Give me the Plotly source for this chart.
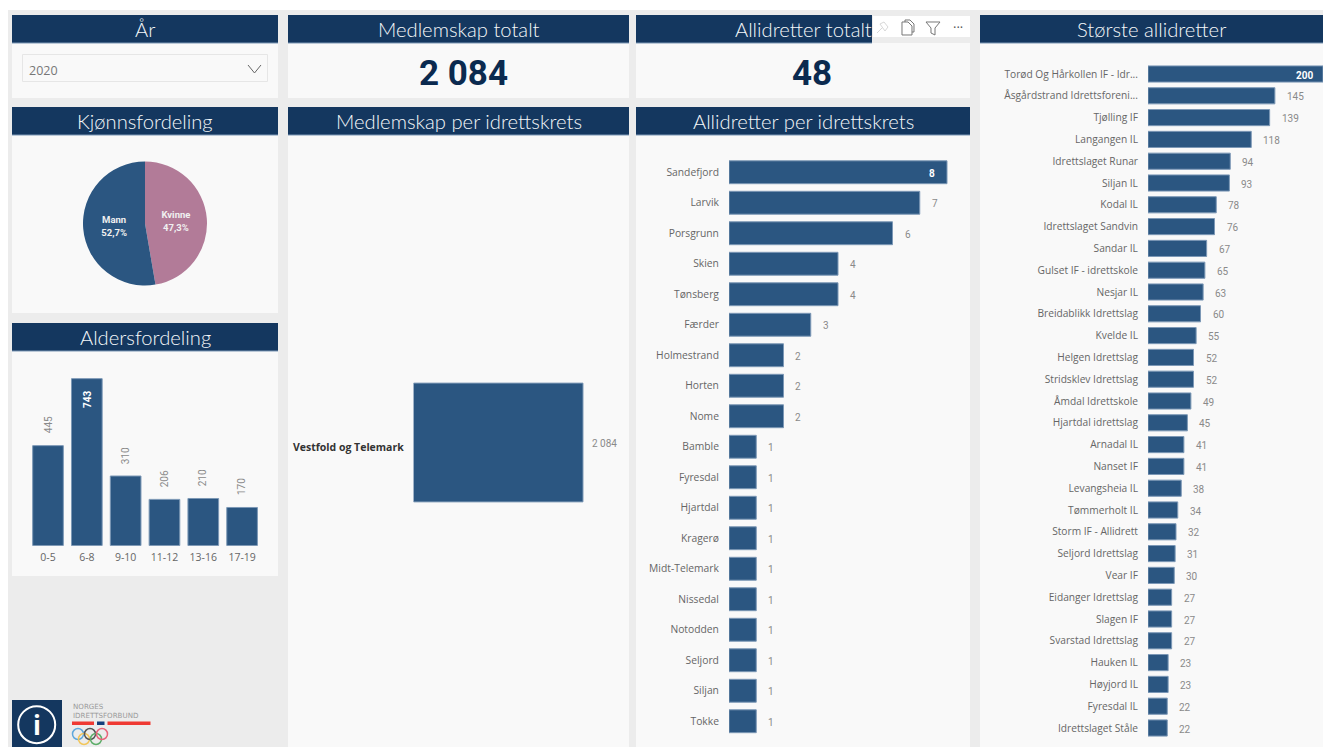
import plotly.graph_objects as go

W, H = 1323, 747
def X(p): return p / W
def Y(p): return 1 - p / H

# ---------- data ----------
years_selected = "2020"
total_members = "2 084"
total_clubs = "48"
gender_labels = ["Kvinne", "Mann"]
gender_values = [47.3, 52.7]
age_labels = ["0-5", "6-8", "9-10", "11-12", "13-16", "17-19"]
age_values = [445, 743, 310, 206, 210, 170]
krets_labels = ["Vestfold og Telemark"]
krets_values = [2084]
krets_display = ["2 084"]
district_labels = ["Sandefjord", "Larvik", "Porsgrunn", "Skien", "Tønsberg", "Færder", "Holmestrand",
                   "Horten", "Nome", "Bamble", "Fyresdal", "Hjartdal", "Kragerø", "Midt-Telemark",
                   "Nissedal", "Notodden", "Seljord", "Siljan", "Tokke"]
district_values = [8, 7, 6, 4, 4, 3, 2, 2, 2, 1, 1, 1, 1, 1, 1, 1, 1, 1, 1]
club_labels = ["Torød Og Hårkollen IF - Idr...", "Åsgårdstrand Idrettsforeni...", "Tjølling IF", "Langangen IL",
               "Idrettslaget Runar", "Siljan IL", "Kodal IL", "Idrettslaget Sandvin", "Sandar IL",
               "Gulset IF - idrettskole", "Nesjar IL", "Breidablikk Idrettslag", "Kvelde IL", "Helgen Idrettslag",
               "Stridsklev Idrettslag", "Åmdal Idrettskole", "Hjartdal idrettslag", "Arnadal IL", "Nanset IF",
               "Levangsheia IL", "Tømmerholt IL", "Storm IF - Allidrett", "Seljord Idrettslag", "Vear IF",
               "Eidanger Idrettslag", "Slagen IF", "Svarstad Idrettslag", "Hauken IL", "Høyjord IL",
               "Fyresdal IL", "Idrettslaget Ståle"]
club_values = [200, 145, 139, 118, 94, 93, 78, 76, 67, 65, 63, 60, 55, 52, 52, 49, 45, 41, 41,
               38, 34, 32, 31, 30, 27, 27, 27, 23, 23, 22, 22]
titles = ["År", "Medlemskap totalt", "Allidretter totalt", "Største allidretter", "Kjønnsfordeling",
          "Medlemskap per idrettskrets", "Allidretter per idrettskrets", "Aldersfordeling"]

# ---------- style ----------
NAVY, BAR, EDGE, PINK = "#14375F", "#2B5681", "#7C98B6", "#B27B98"
PANEL, BG = "#F9F9F9", "#ECECEC"
TITLE_FONT = "Lato"
LABEL_FONT = "Open Sans"
VALUE_FONT = "Liberation Sans Narrow, Roboto"
GREY = "#666666"

shapes, annots = [], []
def rect(x0, y0, x1, y1, fill, line=None, layer="below"):
    shapes.append(dict(type="rect", xref="paper", yref="paper", x0=X(x0), x1=X(x1), y0=Y(y0), y1=Y(y1),
                       fillcolor=fill, line=dict(color=line or fill, width=1 if line else 0), layer=layer))
def text(x, y, s, size, color, family=LABEL_FONT, anchor="center", weight=None):
    f = dict(size=size, color=color, family=family)
    if weight:
        f["weight"] = weight
    annots.append(dict(xref="paper", yref="paper", x=X(x), y=Y(y), text=s, showarrow=False, xanchor=anchor,
                       yanchor="middle", font=f))
def path(d_pts, color, width=1, closed=False):
    d = "M" + " L".join(f"{X(a):.5f},{Y(b):.5f}" for a, b in d_pts) + (" Z" if closed else "")
    shapes.append(dict(type="path", xref="paper", yref="paper", path=d, line=dict(color=color, width=width), layer="above"))
def circle(cx, cy, r, color, width=1.5):
    shapes.append(dict(type="circle", xref="paper", yref="paper", x0=X(cx-r), x1=X(cx+r), y0=Y(cy-r), y1=Y(cy+r),
                       line=dict(color=color, width=width), layer="above"))

rect(8, 10, W, H, BG)
panels = [  # x0, x1, header top, body bottom, title index
    (12, 278, 15, 98, 0), (288, 629, 15, 98, 1), (636, 970, 15, 98, 2), (980, 1323, 15, 747, 3),
    (12, 278, 107, 313, 4), (288, 629, 107, 747, 5), (636, 970, 107, 747, 6), (12, 278, 323, 576, 7)]
for x0, x1, top, bot, t in panels:
    rect(x0, top + 28, x1, bot, PANEL)
    hx1 = 872 if t == 2 else x1
    rect(x0, top, hx1, top + 28, NAVY)
    shapes.append(dict(type="line", xref="paper", yref="paper", x0=X(x0), x1=X(hx1), y0=Y(top+28), y1=Y(top+28),
                       line=dict(color=EDGE, width=1), layer="below"))
    text((x0 + x1) / 2, top + 14, titles[t], 20.2, "#F4F7FA", TITLE_FONT, weight=300)

# slicer
rect(22.5, 54.5, 267.5, 81.5, PANEL, "#E6E6E6")
text(27, 70, years_selected, 12.5, "#777777", anchor="left")
path([(248, 65), (254.5, 73), (261, 65)], "#666666", 1)

# KPI values
text(463.5, 73.5, f"<b>{total_members}</b>", 35, "#0B2A4F", "Roboto")
text(812.5, 73.5, f"<b>{total_clubs}</b>", 35, "#0B2A4F", "Roboto")

# visual header icons
rect(873, 16, 970, 37, "#FFFFFF")
path([(877, 33), (882, 28)], "#D8D8D8"); path([(880, 24), (885, 31), (888, 27), (884, 22)], "#D8D8D8", closed=True)
path([(902, 22), (908, 22), (912, 26), (912, 35), (902, 35)], "#777777", closed=True); path([(905, 22), (905, 20), (910, 20), (914, 24), (914, 32), (912, 32)], "#777777")
path([(926, 22), (940, 22), (935, 28), (935, 35), (931, 33), (931, 28)], "#777777", closed=True)
text(958, 27, "···", 13, "#555555")

# info tile and logo
rect(12, 700, 62, H, NAVY)
circle(36.7, 724.7, 18.5, "#FFFFFF", 2)
text(36.7, 724.7, "<b>i</b>", 26, "#FFFFFF", "Open Sans")
text(71, 706.5, "NORGES", 7.1, "#9A9A9A", "DejaVu Sans", anchor="left")
text(71, 715.5, "IDRETTSFORBUND", 7.1, "#9A9A9A", "DejaVu Sans", anchor="left")
rect(72, 721.5, 94, 725, "#EF3A33"); rect(97, 721.5, 104.5, 725, "#143F7C"); rect(107.5, 721.5, 150.5, 725, "#EF3A33")
for cx, cy, c in [(78, 734, "#5FA8DC"), (84, 739, "#F2C65B"), (90, 734, "#555555"), (96, 739, "#5DAE6A"), (102, 734, "#E8647A")]:
    circle(cx, cy, 5.5, c, 1.5)

# ---------- charts ----------
fig = go.Figure()
marker = dict(color=BAR, line=dict(color=EDGE, width=1))

fig.add_trace(go.Pie(labels=gender_labels, values=gender_values, sort=False, direction="clockwise", rotation=0,
                     marker=dict(colors=[PINK, BAR]), texttemplate="<b>%{label}<br>%{percent:.1%}</b>",
                     textposition="inside", insidetextorientation="horizontal",
                     textfont=dict(size=9.5, color="#F0F0F0", family=VALUE_FONT), showlegend=False,
                     domain=dict(x=[X(83), X(207)], y=[Y(286), Y(161)])))

def hbar(labels, values, xa, ya, dom_x, dom_y, xmax, gap, lab_size=10.3, standoff=8, show_labels=True):
    fig.add_trace(go.Bar(y=labels, x=values, orientation="h", marker=marker, width=1 - gap, xaxis=xa, yaxis=ya, showlegend=False))
    fig.layout[xa.replace("x", "xaxis")] = dict(domain=[X(dom_x[0]), X(dom_x[1])], range=[0, xmax], visible=False, fixedrange=True)
    fig.layout[ya.replace("y", "yaxis")] = dict(domain=[Y(dom_y[1]), Y(dom_y[0])], anchor=xa, autorange="reversed",
        type="category", tickmode="array", tickvals=labels, ticktext=labels, ticks="outside", ticklen=standoff, tickcolor="rgba(0,0,0,0)",
        showline=False, showgrid=False, zeroline=False, automargin=False, fixedrange=True, showticklabels=show_labels,
        tickfont=dict(size=lab_size, color=GREY, family=LABEL_FONT))

def value_label(xa, ya, x, y, s, inside=False, shift=10):
    annots.append(dict(xref=xa, yref=ya, x=x, y=y, text=f"<b>{s}</b>" if inside else s, showarrow=False,
                       xanchor="right" if inside else "left", yanchor="middle", xshift=-shift if inside else shift, yshift=-1,
                       font=dict(size=10, color="#FFFFFF" if inside else "#8A8A8A", family=VALUE_FONT)))

# Medlemskap per idrettskrets
hbar(krets_labels, krets_values, "x", "y", (413.5, 620), (138, 747), 2539, 0.805, show_labels=False)
for l, v, s in zip(krets_labels, krets_values, krets_display):
    value_label("x", "y", v, l, s, shift=7)
    annots.append(dict(xref="x", yref="y", x=0, y=l, text=f"<b>{l}</b>", showarrow=False, xanchor="right", yanchor="middle",
                       xshift=-8, yshift=-4, font=dict(size=10.5, color="#333333", family=LABEL_FONT)))

# Allidretter per idrettskrets
hbar(district_labels, district_values, "x2", "y2", (729, 965), (157, 736.5), 8.66, 0.25, standoff=7)
for l, v in zip(district_labels, district_values):
    value_label("x2", "y2", v, l, v, inside=(v == max(district_values)))

# Største allidretter
hbar(club_labels, club_values, "x3", "y3", (1148, 1323), (63.1, 738.9), 200, 0.26, lab_size=10.2, standoff=7)
for l, v in zip(club_labels, club_values):
    value_label("x3", "y3", v, l, v, inside=(v == max(club_values)), shift=8 if v == max(club_values) else 10)

# Aldersfordeling
fig.add_trace(go.Bar(x=age_labels, y=age_values, marker=marker, width=0.79, xaxis="x4", yaxis="y4", showlegend=False))
fig.layout.xaxis4 = dict(domain=[X(28.6), X(261.5)], anchor="y4", type="category", showline=False, showgrid=False, zeroline=False,
                         ticks="outside", ticklen=2, tickcolor="rgba(0,0,0,0)", fixedrange=True,
                         tickfont=dict(size=10.5, color=GREY, family=LABEL_FONT))
fig.layout.yaxis4 = dict(domain=[Y(545.7), Y(351)], range=[0, 866], visible=False, fixedrange=True)
for l, v in zip(age_labels, age_values):
    top = v == max(age_values)
    annots.append(dict(xref="x4", yref="y4", x=l, y=v, text=f"<b>{v}</b>" if top else str(v), showarrow=False, textangle=-90,
                       yanchor="top" if top else "bottom", yshift=-10 if top else 10,
                       font=dict(size=10, color="#FFFFFF" if top else "#8A8A8A", family=VALUE_FONT)))

fig.update_layout(width=W, height=H, autosize=False, margin=dict(l=0, r=0, t=0, b=0), paper_bgcolor="#FFFFFF",
                  plot_bgcolor="rgba(0,0,0,0)", separators=", ", shapes=shapes, annotations=annots, hovermode=False)
fig.write_html("out.html", config=dict(displayModeBar=False),
               post_script="document.body.style.margin='0';document.body.style.overflow='hidden';")
